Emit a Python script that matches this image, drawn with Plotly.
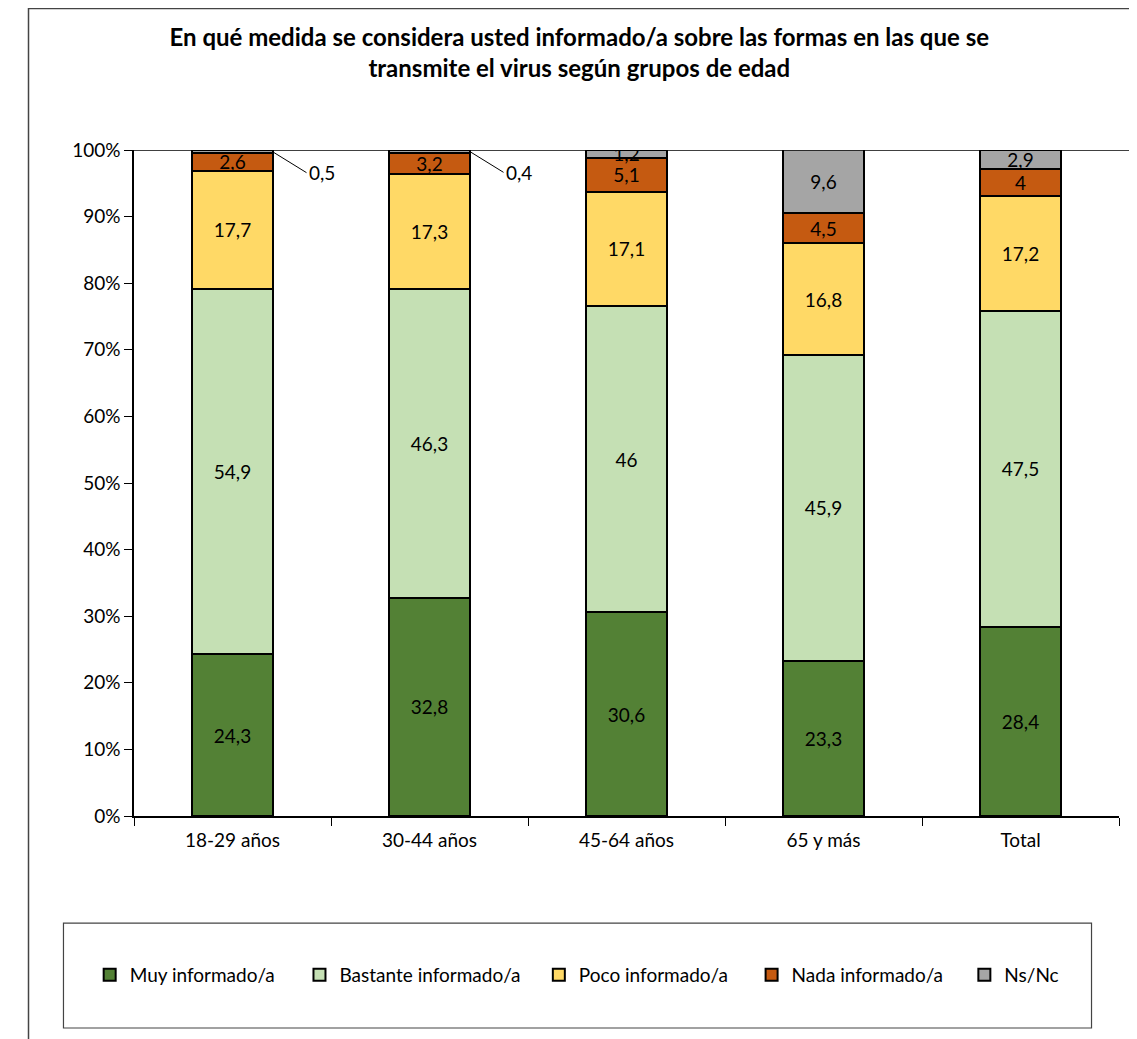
import plotly.graph_objects as go

categories = ['18-29 años', '30-44 años', '45-64 años', '65 y más', 'Total']

muy = [24.3, 32.8, 30.6, 23.3, 28.4]
bastante = [54.9, 46.3, 46, 45.9, 47.5]
poco = [17.7, 17.3, 17.1, 16.8, 17.2]
nada = [2.6, 3.2, 5.1, 4.5, 4]
nsnc = [0.5, 0.4, 1.2, 9.6, 2.9]

y_ticks = list(range(0, 101, 10))

series = [
    ('Muy informado/a', muy, '#538135'),
    ('Bastante informado/a', bastante, '#C5E0B4'),
    ('Poco informado/a', poco, '#FFD966'),
    ('Nada informado/a', nada, '#C55A11'),
    ('Ns/Nc', nsnc, '#A5A5A5'),
]

# one legend per series so the entries sit where the original has them
legend_x = [-0.045, 0.168, 0.411, 0.627, 0.843]
legend_ids = ['legend', 'legend2', 'legend3', 'legend4', 'legend5']


def fmt(v):
    return ('%g' % v).replace('.', ',')


fig = go.Figure()

for (name, vals, color), lg in zip(series, legend_ids):
    # tiny segments get an outside label with a leader line instead
    texts = [fmt(v) if v >= 1 else '' for v in vals]
    fig.add_trace(go.Bar(
        x=categories, y=vals, name=name, text=texts, legend=lg,
        textposition='inside', insidetextanchor='middle', textangle=0,
        constraintext='none',
        textfont=dict(size=19, color='black', family='Lato'),
        marker=dict(color=color, line=dict(color='black', width=2)),
    ))

# leader line labels for the small Ns/Nc values
base = [m + b + p + n for m, b, p, n in zip(muy, bastante, poco, nada)]
for cat, b, v in zip(categories, base, nsnc):
    if v < 1:
        fig.add_annotation(
            x=cat, y=b + v / 2, xshift=40, text=fmt(v),
            showarrow=True, arrowhead=0, arrowwidth=1, arrowcolor='black',
            ax=34, ay=21, xanchor='left',
            font=dict(size=19, color='black', family='Lato'),
        )

# top line at 100%
fig.add_shape(type='line', xref='paper', yref='y', x0=0, x1=1.03, y0=100, y1=100,
              line=dict(color='black', width=1.5))
# outer chart frame
fig.add_shape(type='rect', xref='paper', yref='paper', x0=-0.1071, x1=1.06,
              y0=-0.36, y1=1.2125, line=dict(color='#444444', width=1.5), layer='below')
# legend box
fig.add_shape(type='rect', xref='paper', yref='paper', x0=-0.0716, x1=0.9721,
              y0=-0.3183, y1=-0.1607, line=dict(color='#444444', width=1.2))

legends = {}
for lg, lx in zip(legend_ids, legend_x):
    legends[lg] = dict(orientation='h', x=lx, xanchor='left', y=-0.2387, yanchor='middle',
                       font=dict(size=19, family='Lato'), itemwidth=30,
                       bgcolor='rgba(0,0,0,0)')

fig.update_layout(
    barmode='stack',
    bargap=0.59,
    width=1129, height=1031,
    margin=dict(l=126, r=18, t=142, b=223),
    plot_bgcolor='white', paper_bgcolor='white',
    font=dict(family='Lato', size=19, color='black'),
    title=dict(
        text='<b>En qué medida se considera usted informado/a sobre las formas en las que se<br>transmite el virus según grupos de edad</b>',
        x=0.506, xanchor='center', y=0.963, yanchor='middle',
        font=dict(size=24, family='Lato', color='black'),
    ),
    uniformtext=dict(minsize=19, mode='show'),
    showlegend=True,
    yaxis=dict(range=[0, 100], tickmode='array', tickvals=y_ticks,
               ticktext=['%d%%' % t for t in y_ticks],
               showgrid=False, zeroline=False, showline=True, linecolor='black',
               linewidth=1.5, ticks='outside', ticklen=8, tickcolor='black',
               tickfont=dict(size=19)),
    xaxis=dict(showline=True, linecolor='black', linewidth=1.5, ticks='outside',
               tickson='boundaries', ticklen=8, tickcolor='black',
               ticklabelstandoff=6,
               tickfont=dict(size=19), showgrid=False),
    **legends,
)

fig.write_html('out.html')
